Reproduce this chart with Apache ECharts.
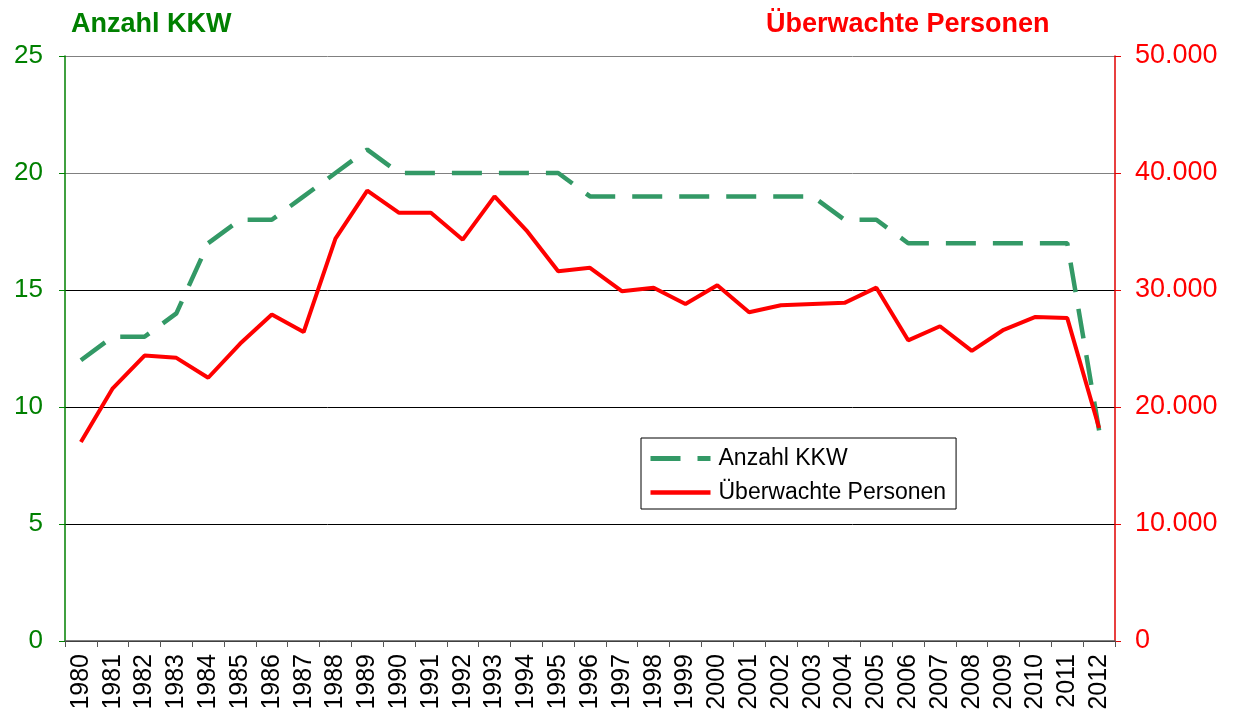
<!DOCTYPE html>
<html>
<head>
<meta charset="utf-8">
<script src="https://cdn.jsdelivr.net/npm/echarts@6/dist/echarts.min.js"></script>
<style>
  html, body { margin: 0; padding: 0; background: #fff; }
  #chart_box { width: 1237px; height: 715px; }
</style>
</head>
<body>
<div id="chart_box"></div>
<script>
// Jahre
var years = ['1980', '1981', '1982', '1983', '1984', '1985', '1986', '1987', '1988', '1989',
    '1990', '1991', '1992', '1993', '1994', '1995', '1996', '1997', '1998', '1999',
    '2000', '2001', '2002', '2003', '2004', '2005', '2006', '2007', '2008', '2009',
    '2010', '2011', '2012'];

// Anzahl KKW (linke Achse)
var anzahlKKW = [12, 13, 13, 14, 17, 18, 18, 19, 20, 21,
    20, 20, 20, 20, 20, 20, 19, 19, 19, 19,
    19, 19, 19, 19, 18, 18, 17, 17, 17, 17,
    17, 17, 9];

// Überwachte Personen (rechte Achse)
var personen = [17000, 21600, 24400, 24200, 22500, 25400, 27900, 26400, 34400, 38500,
    36600, 36600, 34300, 38000, 35100, 31600, 31900, 29900, 30200, 28800,
    30400, 28100, 28700, 28800, 28900, 30200, 25700, 26900, 24800, 26600,
    27700, 27600, 18200];

var leftTicks = [0, 25, 5];
var rightTicks = [0, 50000, 10000];

(function() {
    var font = '"Liberation Sans", Arial, sans-serif';
    var myChart = echarts.init(document.getElementById('chart_box'));

    function tausender(v) {
        return String(v).replace(/\B(?=(\d{3})+(?!\d))/g, '.');
    }

    myChart.setOption({
        animation: false,
        textStyle: { fontFamily: font },
        title: [{
            text: 'Anzahl KKW',
            left: 66,
            top: 6,
            textStyle: { color: '#008000', fontWeight: 'bold', fontSize: 27, fontFamily: font }
        }, {
            text: 'Überwachte Personen',
            left: 761,
            top: 6,
            textStyle: { color: '#ff0000', fontWeight: 'bold', fontSize: 27, fontFamily: font }
        }],
        grid: {
            left: 65,
            right: 122,
            top: 56,
            bottom: 74,
            containLabel: false
        },
        legend: {
            orient: 'vertical',
            left: 641,
            top: 438,
            padding: [9, 10, 5, 7],
            itemWidth: 60,
            itemHeight: 18,
            itemGap: 11,
            borderColor: '#000',
            borderWidth: 1,
            backgroundColor: '#fff',
            textStyle: { color: '#000', fontSize: 23, fontFamily: font, padding: [0, 0, 0, 3] },
            data: [{
                name: 'Anzahl KKW',
                itemStyle: { opacity: 0 },
                lineStyle: { width: 5, type: [30, 17], color: '#339966' }
            }, {
                name: 'Überwachte Personen',
                itemStyle: { opacity: 0 },
                lineStyle: { width: 4.5, color: '#ff0000' }
            }]
        },
        xAxis: [{
            type: 'category',
            boundaryGap: true,
            data: years,
            axisLine: { lineStyle: { color: '#555', width: 1.5 } },
            axisTick: { show: true, length: 6, lineStyle: { color: '#555' } },
            axisLabel: {
                rotate: 90,
                interval: 0,
                margin: 13,
                color: '#000',
                fontSize: 25,
                fontFamily: font
            },
            splitLine: { show: false }
        }],
        yAxis: [{
            type: 'value',
            position: 'left',
            min: leftTicks[0],
            max: leftTicks[1],
            interval: leftTicks[2],
            axisLine: { show: true, lineStyle: { color: '#008000', width: 1.5 } },
            axisTick: { show: true, length: 6, lineStyle: { color: '#008000' } },
            axisLabel: { color: '#008000', fontSize: 26, margin: 22, fontFamily: font },
            splitLine: {
                show: true,
                lineStyle: { color: ['#000', '#000', '#000', '#000', '#808080', '#808080'], width: 1 }
            }
        }, {
            type: 'value',
            position: 'right',
            min: rightTicks[0],
            max: rightTicks[1],
            interval: rightTicks[2],
            axisLine: { show: true, lineStyle: { color: '#e00000', width: 1.5 } },
            axisTick: { show: true, length: 6, lineStyle: { color: '#e00000' } },
            axisLabel: {
                color: '#ff0000',
                fontSize: 27,
                margin: 20,
                fontFamily: font,
                formatter: tausender
            },
            splitLine: { show: false }
        }],
        series: [{
            name: 'Anzahl KKW',
            type: 'line',
            yAxisIndex: 0,
            data: anzahlKKW,
            symbol: 'none',
            showSymbol: false,
            color: '#339966',
            lineStyle: { color: '#339966', width: 4.5, type: [30, 17] },
            z: 2
        }, {
            name: 'Überwachte Personen',
            type: 'line',
            yAxisIndex: 1,
            data: personen,
            symbol: 'none',
            showSymbol: false,
            color: '#ff0000',
            lineStyle: { color: '#ff0000', width: 4 },
            z: 3
        }]
    });
})();
</script>
</body>
</html>
